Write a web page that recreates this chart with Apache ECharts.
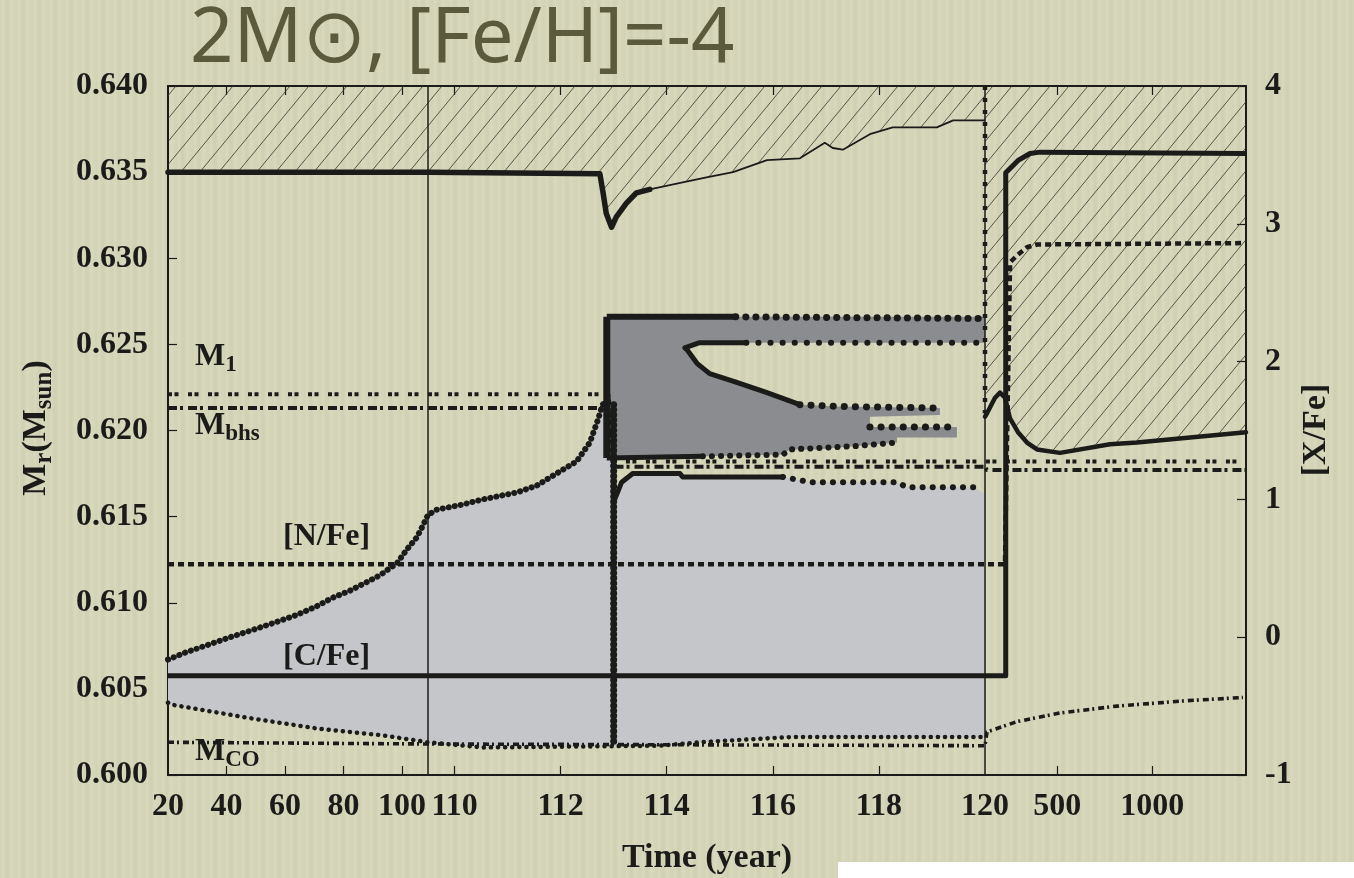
<!DOCTYPE html>
<html><head><meta charset="utf-8">
<script src="https://cdn.jsdelivr.net/npm/echarts@6/dist/echarts.min.js"></script>
<style>
html,body{margin:0;padding:0;background:#d4d5b8;}
#c{width:1354px;height:878px;background:repeating-linear-gradient(90deg,#d2d3b5 0px,#d7d8bc 3px,#cfd0b2 7px,#d8d9bd 11px,#d3d4b6 16px);}
</style>
</head><body><div id="c"></div>
<script>
// ---------- piece-wise time axis (three broken segments) ----------
const SEGMENTS = [
  { t0: 20,    t1: 108.9, p0: 0,     p1: 24.12 },
  { t0: 109.5, t1: 120,   p0: 24.12, p1: 75.79 },
  { t0: 120,   t1: 1494,  p0: 75.79, p1: 100 }
];
const X_TICKS  = [40, 60, 80, 100, 110, 112, 114, 116, 118, 500, 1000];
const X_LABELS = [20, 40, 60, 80, 100, 110, 112, 114, 116, 118, 120, 500, 1000];
const BREAKS   = [108.9, 120];

// ---------- data (time in years, Mr in Msun, [X/Fe] in dex) ----------
const SURFACE_THICK = [[20,0.6350],[108.9,0.6350],[109.5,0.6350],[112.74,0.6349],[112.80,0.6338],[112.86,0.6326],[112.96,0.6318],[113.05,0.6324],[113.24,0.6332],[113.43,0.6338],[113.68,0.6340]];
const SURFACE_THIN  = [[113.68,0.6340],[114.30,0.6344],[114.75,0.6347],[115.25,0.6350],[115.89,0.6357],[116.51,0.6358],[116.98,0.6367],[117.13,0.6364],[117.32,0.6363],[117.83,0.6372],[118.26,0.6376],[119.09,0.6376],[119.40,0.6380],[120,0.6380]];
const SURFACE_DROP  = [[120,0.6400],[120,0.6210]];
const ENVELOPE_LOW  = [[120,0.6208],[130.5,0.6210],[172.6,0.6219],[198.9,0.6222],[225.3,0.6219],[251.6,0.6207],[293.7,0.6199],[341,0.6193],[393.7,0.6189],[514.7,0.6187],[778,0.6192],[920,0.6193],[1494,0.6199]];

const M1   = [[20,0.6221],[112.9,0.6221],[113.0,0.6182],[1494,0.6182]];
const MBHS = [[20,0.6213],[112.9,0.6213],[113.0,0.6179],[120,0.6179],[130,0.6177],[1494,0.6177]];
const MCO  = [[20,0.6019],[108.9,0.6018],[120,0.6017],[130.5,0.6025],[288,0.6031],[515,0.6036],[815,0.6040],[1162,0.6043],[1478,0.6045]];

const N_FE = [[20,0.53],[225,0.53],[252,2.72],[288,2.77],[341,2.83],[394,2.85],[1494,2.86]];
const C_FE = [[20,-0.28],[229,-0.28],[229,3.37],[294,3.46],[357,3.51],[409,3.52],[1494,3.51]];

const LIGHT_UPPER = [[20,0.6067],[25.8,0.6071],[34.4,0.6076],[41.2,0.6080],[50.4,0.6085],[57.3,0.6089],[64.1,0.6093],[70.9,0.6098],[76.4,0.6103],[82.2,0.6107],[88.0,0.6112],[92.5,0.6116],[98.3,0.6123],[101.7,0.6131],[105.1,0.6138],[107.2,0.6145],[108.9,0.6151],[109.66,0.6154],[110.15,0.6157],[110.53,0.6160],[111.17,0.6164],[111.55,0.6168],[111.92,0.6175],[112.30,0.6182],[112.55,0.6193],[112.70,0.6206],[112.79,0.6215],[112.9,0.6218]];
const LIGHT_TOP2_SOLID = [[113.02,0.6160],[113.15,0.6170],[113.36,0.6175],[114.25,0.6175],[114.30,0.6173],[116.19,0.6173]];
const LIGHT_TOP2_DOTS  = [[116.19,0.6173],[116.7,0.6170],[118.34,0.6170],[118.53,0.6167],[119.8,0.6167]];
const LIGHT_LOWER = [[20,0.6042],[20.7,0.6041],[48.0,0.6033],[70.9,0.6027],[93.5,0.6023],[108.9,0.6019],[109.5,0.6018],[110.53,0.6016],[113.87,0.6017],[114.62,0.6019],[116.32,0.6022],[120,0.6022]];
const BAND_113 = [[113.0,0.6215],[113.0,0.6017]];

const DARK_POLY = [[112.87,0.6266],[120,0.6266],[120,0.6251],[115.5,0.6251],[114.62,0.6251],[114.34,0.6248],[114.38,0.6247],[114.57,0.6239],[114.81,0.6233],[115.32,0.6228],[115.89,0.6222],[116.51,0.6215],[117.21,0.6214],[119.15,0.6213],[119.15,0.6209],[117.83,0.6208],[117.83,0.6202],[119.47,0.6202],[119.47,0.6196],[118.34,0.6196],[118.34,0.6193],[117.58,0.6191],[116.83,0.6189],[116.32,0.6189],[116.19,0.6186],[114.68,0.6185],[113.06,0.6184],[112.87,0.6184]];
const DARK_LEFT      = [[112.87,0.6184],[112.87,0.6266]];
const DARK_TOP_SOLID = [[112.87,0.6266],[115.3,0.6266]];
const DARK_TOP_DOTS  = [[115.3,0.6266],[120,0.6265]];
const TONGUE_SOLID   = [[116.51,0.6215],[115.89,0.6222],[115.32,0.6228],[114.81,0.6233],[114.57,0.6239],[114.38,0.6247],[114.34,0.6248],[114.62,0.6251],[115.5,0.6251]];
const TONGUE_DOTS    = [[115.5,0.6251],[120,0.6251]];
const PRONG_UP_DOTS  = [[116.51,0.6215],[117.21,0.6214],[119.15,0.6213]];
const PRONG_LO_DOTS  = [[117.83,0.6202],[119.47,0.6202]];
const DARK_BOT_SOLID = [[112.87,0.6184],[114.68,0.6185]];
const DARK_BOT_DOTS  = [[114.68,0.6185],[116.19,0.6186],[116.32,0.6189],[117.58,0.6191],[118.34,0.6193]];

// ---------- helpers ----------
function tx(t) {
  let s;
  if (t <= SEGMENTS[0].t1) s = SEGMENTS[0];
  else if (t < SEGMENTS[1].t0) return SEGMENTS[1].p0;
  else if (t <= SEGMENTS[1].t1) s = SEGMENTS[1];
  else s = SEGMENTS[2];
  return s.p0 + (t - s.t0) / (s.t1 - s.t0) * (s.p1 - s.p0);
}
const conv = arr => arr.map(d => [tx(d[0]), d[1]]);
const INK = '#1b1b19';
const LABEL_POS = {};
X_LABELS.forEach(t => { LABEL_POS[tx(t).toFixed(3)] = String(t); });

function line(data, width, type, extra, cap) {
  return Object.assign({
    type: 'line', data: conv(data), showSymbol: false, symbol: 'none', silent: true,
    yAxisIndex: 0, z: 4, animation: false,
    lineStyle: { color: INK, width: width, type: type || 'solid', cap: cap || 'butt', join: 'round' }
  }, extra || {});
}
function dots(data, size, gap, extra) {
  return line(data, size, [0.1, gap], extra, 'round');
}
function polygon(data, color, z) {
  const pts = conv(data);
  return {
    type: 'custom', coordinateSystem: 'cartesian2d', xAxisIndex: 0, yAxisIndex: 0,
    data: pts, encode: { x: 0, y: 1 }, silent: true, z: z, animation: false,
    renderItem: function (params, api) {
      if (params.dataIndex !== 0) return null;
      return { type: 'polygon', shape: { points: pts.map(p => api.coord(p)) }, style: { fill: color } };
    }
  };
}

// hatch pattern
const hatch = document.createElement('canvas');
hatch.width = 19; hatch.height = 23;
(function () {
  const g = hatch.getContext('2d');
  g.strokeStyle = '#35352b'; g.lineWidth = 0.8;
  g.beginPath();
  g.moveTo(-2, 25.4); g.lineTo(21, -2.4);
  g.moveTo(-21, 25.4); g.lineTo(2, -2.4);
  g.moveTo(17, 25.4); g.lineTo(40, -2.4);
  g.stroke();
})();

const HATCH_BOUNDARY = SURFACE_THICK.concat(SURFACE_THIN.slice(1), ENVELOPE_LOW);

const serif = '"Liberation Serif","Times New Roman",serif';
const tickFont = { fontFamily: serif, fontWeight: 'bold', fontSize: 32, color: INK };
const subRich = {
  m: { fontFamily: serif, fontWeight: 'bold', fontSize: 32, lineHeight: 40, fill: INK },
  s: { fontFamily: serif, fontWeight: 'bold', fontSize: 23, lineHeight: 21, verticalAlign: 'bottom', fill: INK }
};
const nameRich = {
  m: { fontFamily: serif, fontWeight: 'bold', fontSize: 34, lineHeight: 42, fill: INK },
  s: { fontFamily: serif, fontWeight: 'bold', fontSize: 25, lineHeight: 22, verticalAlign: 'bottom', fill: INK }
};

const chart = echarts.init(document.getElementById('c'), null, { renderer: 'canvas' });
chart.setOption({
  animation: false,
  backgroundColor: 'transparent',
  grid: { left: 168, right: 108, top: 86, bottom: 103, containLabel: false, outerBoundsMode: 'none' },
  xAxis: [{
    type: 'value', min: 0, max: 100, position: 'bottom',
    axisLine: { show: true, onZero: false, lineStyle: { color: INK, width: 2 } },
    axisTick: { show: true, inside: true, length: 9, customValues: X_TICKS.map(tx), lineStyle: { color: INK, width: 1.2 } },
    axisLabel: Object.assign({ show: true, margin: 16, customValues: X_LABELS.map(tx),
      formatter: v => LABEL_POS[v.toFixed(3)] || '' }, tickFont),
    splitLine: { show: false },
    name: 'Time (year)', nameLocation: 'middle', nameGap: 66,
    nameTextStyle: { fontFamily: serif, fontWeight: 'bold', fontSize: 34, color: INK }
  }, {
    type: 'value', min: 0, max: 100, position: 'top',
    axisLine: { show: true, onZero: false, lineStyle: { color: INK, width: 2 } },
    axisTick: { show: true, inside: true, length: 9, customValues: X_TICKS.map(tx), lineStyle: { color: INK, width: 1.2 } },
    axisLabel: { show: false }, splitLine: { show: false }
  }],
  yAxis: [{
    type: 'value', min: 0.600, max: 0.640, interval: 0.005, position: 'left',
    axisLine: { show: true, onZero: false, lineStyle: { color: INK, width: 2 } },
    axisTick: { show: true, inside: true, length: 9, lineStyle: { color: INK, width: 1.2 } },
    axisLabel: Object.assign({ margin: 20, formatter: v => v.toFixed(3) }, tickFont),
    splitLine: { show: false }
  }, {
    type: 'value', min: -1, max: 4, interval: 1, position: 'right',
    axisLine: { show: true, onZero: false, lineStyle: { color: INK, width: 2 } },
    axisTick: { show: true, inside: true, length: 9, lineStyle: { color: INK, width: 1.2 } },
    axisLabel: Object.assign({ margin: 19 }, tickFont),
    splitLine: { show: false }
  }],
  series: [
    // hatched envelope region
    {
      type: 'line', data: conv(HATCH_BOUNDARY), showSymbol: false, symbol: 'none', silent: true, z: 1,
      lineStyle: { opacity: 0 },
      areaStyle: { origin: 'end', opacity: 1, color: { image: hatch, repeat: 'repeat' } }
    },
    polygon(LIGHT_UPPER.concat([[113.0,0.6215]], LIGHT_TOP2_SOLID, LIGHT_TOP2_DOTS, [[120,0.6163]], LIGHT_LOWER.slice().reverse()), '#c5c6c9', 2),
    polygon(DARK_POLY, '#8b8c90', 2),
    // composition lines (right axis)
    line(N_FE, 4.5, [6, 4], { yAxisIndex: 1, z: 3 }),
    line(C_FE, 5, 'solid', { yAxisIndex: 1, z: 5,
      markLine: { silent: true, symbol: 'none', label: { show: false }, animation: false,
        lineStyle: { color: INK, width: 1.5, type: 'solid' },
        data: BREAKS.map(t => ({ xAxis: tx(t) })) } }),
    // mass coordinates
    line(M1, 4, [4, 2.5, 4, 9.5], { z: 3 }),
    line(MBHS, 4, [9, 3, 3, 5], { z: 3 }),
    line(MCO, 3.6, [6, 3, 2, 4], { z: 3 }),
    // surface / envelope boundary
    line(SURFACE_THICK, 5.5, 'solid', null, 'round'),
    line(SURFACE_THIN, 1.8, 'solid'),
    line(SURFACE_DROP, 4.5, [4, 8]),
    line(ENVELOPE_LOW, 4.5, 'solid', null, 'round'),
    // convective zone outlines
    dots(LIGHT_UPPER, 6, 6),
    dots(LIGHT_LOWER, 4.5, 7),
    dots(BAND_113, 7, 5),
    line(LIGHT_TOP2_SOLID, 5, 'solid', null, 'round'),
    dots(LIGHT_TOP2_DOTS, 6, 10),
    line(DARK_LEFT, 7, 'solid'),
    line(DARK_TOP_SOLID, 6, 'solid'),
    dots(DARK_TOP_DOTS, 7, 10),
    line(TONGUE_SOLID, 5, 'solid', null, 'round'),
    dots(TONGUE_DOTS, 6, 12),
    dots(PRONG_UP_DOTS, 7, 11),
    dots(PRONG_LO_DOTS, 7, 11),
    line(DARK_BOT_SOLID, 5, 'solid'),
    dots(DARK_BOT_DOTS, 6, 9)
  ],
  graphic: [
    { type: 'text', x: 190, y: 40, z: 10, silent: true,
      style: { text: '2M\u2299, [Fe/H]=-4', font: '76px "Noto Sans","DejaVu Sans",sans-serif', fill: '#5b5a3d',
        verticalAlign: 'middle', align: 'left', shadowColor: 'rgba(250,250,235,0.8)', shadowOffsetX: 2, shadowOffsetY: 2, shadowBlur: 1 } },
    { type: 'text', x: 195, y: 337, z: 10, silent: true,
      style: { text: '{m|M}{s|1}', verticalAlign: 'top', align: 'left', rich: subRich } },
    { type: 'text', x: 195, y: 406, z: 10, silent: true,
      style: { text: '{m|M}{s|bhs}', verticalAlign: 'top', align: 'left', rich: subRich } },
    { type: 'text', x: 283, y: 537, z: 10, silent: true,
      style: { text: '[N/Fe]', font: 'bold 32px ' + serif, fill: INK, verticalAlign: 'middle', align: 'left' } },
    { type: 'text', x: 283, y: 657, z: 10, silent: true,
      style: { text: '[C/Fe]', font: 'bold 32px ' + serif, fill: INK, verticalAlign: 'middle', align: 'left' } },
    { type: 'text', x: 195, y: 732, z: 10, silent: true,
      style: { text: '{m|M}{s|CO}', verticalAlign: 'top', align: 'left', rich: subRich } },
    { type: 'text', x: 36, y: 428, rotation: Math.PI / 2, z: 10, silent: true,
      style: { text: '{m|M}{s|r}{m|(M}{s|sun}{m|)}', verticalAlign: 'middle', align: 'center', rich: nameRich } },
    { type: 'text', x: 1316, y: 430, rotation: Math.PI / 2, z: 10, silent: true,
      style: { text: '[X/Fe]', font: 'bold 34px ' + serif, fill: INK, verticalAlign: 'middle', align: 'center' } },
    { type: 'rect', shape: { x: 838, y: 862, width: 516, height: 16 }, style: { fill: '#ffffff' }, z: 10, silent: true }
  ]
});
</script></body></html>
